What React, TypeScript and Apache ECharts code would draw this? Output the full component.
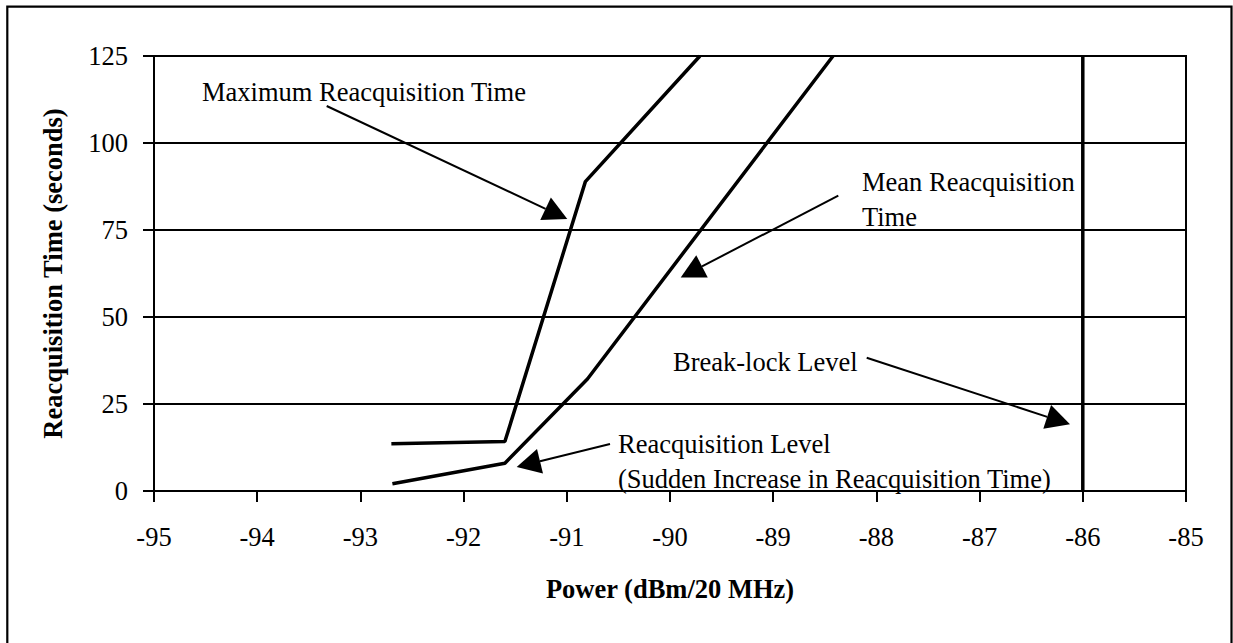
import React, { useEffect, useRef } from "react";
import * as echarts from "echarts";

const xTicks = [-95, -94, -93, -92, -91, -90, -89, -88, -87, -86, -85];
const yTicks = [0, 25, 50, 75, 100, 125];

const maxPower = [-92.7, -91.6, -90.82, -89.71];
const maxTime = [13.6, 14.2, 88.9, 125];

const meanPower = [-92.69, -91.6, -90.8, -88.42];
const meanTime = [2.1, 8.0, 32.2, 125];

const breakLockPower = [-86, -86];
const breakLockTime = [0, 125];

const FONT = '"Liberation Serif", "Times New Roman", serif';
const FS = 26.5;

function arrow(x1: number, y1: number, x2: number, y2: number) {
  const dx = x2 - x1;
  const dy = y2 - y1;
  const len = Math.sqrt(dx * dx + dy * dy);
  const ux = dx / len;
  const uy = dy / len;
  const L = 24;
  const W = 12.5;
  const bx = x2 - ux * L;
  const by = y2 - uy * L;
  const nx = -uy;
  const ny = ux;
  return [
    {
      type: "line",
      shape: { x1, y1, x2: bx, y2: by },
      style: { stroke: "#000", lineWidth: 2 },
    },
    {
      type: "polygon",
      shape: {
        points: [
          [x2, y2],
          [bx + nx * W, by + ny * W],
          [bx - nx * W, by - ny * W],
        ],
      },
      style: { fill: "#000" },
    },
  ];
}

function txt(text: string, x: number, y: number) {
  return {
    type: "text",
    x,
    y,
    style: {
      text,
      fontFamily: FONT,
      fontSize: FS,
      fill: "#000",
      align: "left",
      verticalAlign: "middle",
    },
  };
}

export default function App() {
  const ref = useRef<HTMLDivElement>(null);
  useEffect(() => {
    if (!ref.current) return;
    const chart = echarts.init(ref.current, null, { renderer: "svg" });
    const zip = (a: number[], b: number[]) => a.map((v, i) => [v, b[i]]);
    chart.setOption({
      animation: false,
      backgroundColor: "#fff",
      grid: {
        left: 154,
        right: 47,
        top: 56,
        bottom: 152,
        show: true,
        borderColor: "#000",
        borderWidth: 2,
      },
      xAxis: {
        type: "value",
        min: -95,
        max: -85,
        interval: 1,
        axisLine: { show: true, onZero: false, lineStyle: { color: "#000", width: 2 } },
        axisTick: { show: true, length: 11, lineStyle: { color: "#000", width: 2 } },
        splitLine: { show: false },
        axisLabel: {
          margin: 32,
          fontFamily: FONT,
          fontSize: FS,
          color: "#000",
          formatter: (v: number) => (xTicks.includes(v) ? String(v) : ""),
        },
        name: "Power (dBm/20 MHz)",
        nameLocation: "middle",
        nameGap: 84,
        nameTextStyle: { fontFamily: FONT, fontSize: FS, fontWeight: "bold", color: "#000" },
      },
      yAxis: {
        type: "value",
        min: 0,
        max: 125,
        interval: 25,
        axisLine: { show: true, lineStyle: { color: "#000", width: 2 } },
        axisTick: { show: true, length: 11, lineStyle: { color: "#000", width: 2 } },
        splitLine: { show: true, lineStyle: { color: "#000", width: 2 } },
        axisLabel: {
          margin: 26,
          fontFamily: FONT,
          fontSize: FS,
          color: "#000",
          formatter: (v: number) => (yTicks.includes(v) ? String(v) : ""),
        },
        name: "Reacquisition Time (seconds)",
        nameLocation: "middle",
        nameGap: 88,
        nameTextStyle: { fontFamily: FONT, fontSize: FS, fontWeight: "bold", color: "#000" },
      },
      series: [
        {
          name: "Maximum Reacquisition Time",
          type: "line",
          data: zip(maxPower, maxTime),
          showSymbol: false,
          lineStyle: { color: "#000", width: 3.5 },
          clip: true,
        },
        {
          name: "Mean Reacquisition Time",
          type: "line",
          data: zip(meanPower, meanTime),
          showSymbol: false,
          lineStyle: { color: "#000", width: 3.5 },
          clip: true,
        },
        {
          name: "Break-lock Level",
          type: "line",
          data: zip(breakLockPower, breakLockTime),
          showSymbol: false,
          lineStyle: { color: "#000", width: 3.5 },
        },
      ],
      graphic: [
        {
          type: "rect",
          shape: { x: 7.3, y: 6.7, width: 1224.2, height: 700 },
          style: { fill: "none", stroke: "#000", lineWidth: 2.2 },
          silent: true,
        },
        txt("Maximum Reacquisition Time", 202, 92),
        txt("Mean Reacquisition", 862, 182),
        txt("Time", 862, 217),
        txt("Break-lock Level", 673, 362),
        txt("Reacquisition Level", 618, 443.5),
        txt("(Sudden Increase in Reacquisition Time)", 618, 479),
        ...arrow(326.7, 106, 567.3, 219),
        ...arrow(838.3, 195.7, 680.7, 277.4),
        ...arrow(866.7, 357.7, 1070, 424.3),
        ...arrow(610, 444, 516.7, 467),
      ],
    });
    return () => chart.dispose();
  }, []);
  return (
    <div
      ref={ref}
      style={{ position: "fixed", left: 0, top: 0, width: 1233, height: 643, background: "#fff" }}
    />
  );
}
